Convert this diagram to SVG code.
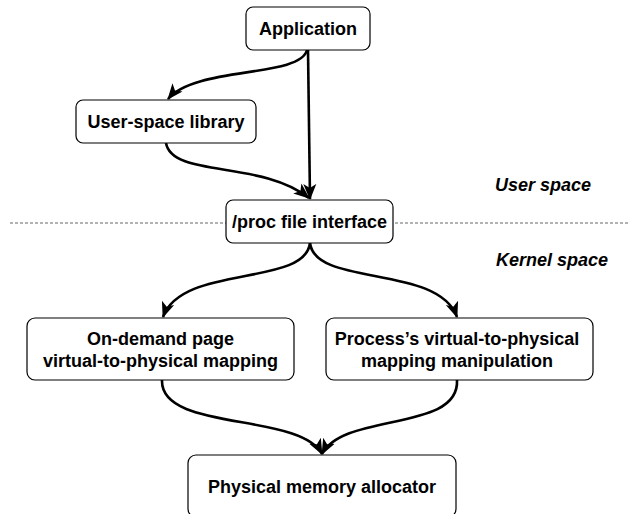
<svg xmlns="http://www.w3.org/2000/svg" width="629" height="514" viewBox="0 0 629 514">
<style>
.box{fill:#fff;stroke:#000;stroke-width:1.2}
.t{font-family:"Liberation Sans",Arial,sans-serif;font-weight:bold;font-size:18px;fill:#000;text-anchor:middle}
.lbl{font-family:"Liberation Sans",Arial,sans-serif;font-weight:bold;font-style:italic;font-size:18px;fill:#000}
.edge{fill:none;stroke:#000;stroke-width:2.6;marker-end:url(#arr)}
.sep{stroke:#666;stroke-width:1;stroke-dasharray:3,2;fill:none}
</style>
<defs>
<marker id="arr" markerUnits="userSpaceOnUse" markerWidth="16" markerHeight="16" viewBox="0 0 16 16" refX="15" refY="8" orient="auto">
<path d="M0,1.5 L16,8 L0,14.5 L4,8 z" fill="#000"/>
</marker>
</defs>
<line class="sep" x1="10" y1="223" x2="629" y2="223"/>
<text class="lbl" x="495" y="191">User space</text>
<text class="lbl" x="496" y="266">Kernel space</text>
<g id="connectors">
<path class="edge" d="M307,50 C 300,78 195,66 168,99"/>
<path class="edge" d="M308,50 L310,199"/>
<path class="edge" d="M166,143 C 172,178 262,160 309,198"/>
<path class="edge" d="M310,243 C 305,287 182,264 163,317"/>
<path class="edge" d="M310,243 C 315,287 438,264 457,317"/>
<path class="edge" d="M162,380 C 160,432 300,412 322,454"/>
<path class="edge" d="M457,380 C 460,432 344,412 322,454"/>
</g>
<g id="application">
<rect class="box" x="246" y="7" width="124" height="43" rx="7"/>
<text class="t" x="308" y="35">Application</text>
</g>
<g id="userlib">
<rect class="box" x="76" y="100" width="180" height="43" rx="7"/>
<text class="t" x="166" y="128">User-space library</text>
</g>
<g id="proc">
<rect class="box" x="226" y="200" width="167" height="43" rx="7"/>
<text class="t" x="309.5" y="228">/proc file interface</text>
</g>
<g id="ondemand">
<rect class="box" x="27" y="318" width="267" height="62" rx="8"/>
<text class="t" x="160.5" y="345">On-demand page</text>
<text class="t" x="160.5" y="367">virtual-to-physical mapping</text>
</g>
<g id="process">
<rect class="box" x="326" y="318" width="267" height="62" rx="8"/>
<text class="t" x="457" y="345">Process’s virtual-to-physical</text>
<text class="t" x="457" y="367">mapping manipulation</text>
</g>
<g id="physical">
<rect class="box" x="188" y="455" width="268" height="62" rx="8"/>
<text class="t" x="322" y="493">Physical memory allocator</text>
</g>
</svg>
